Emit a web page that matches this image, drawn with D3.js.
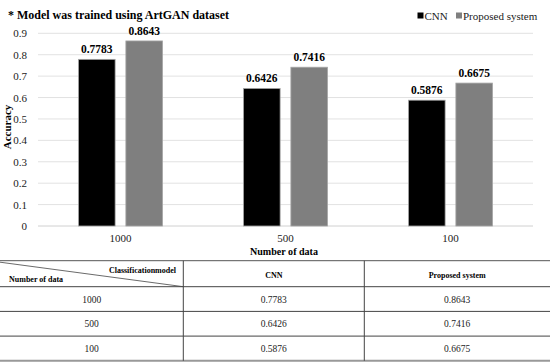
<!DOCTYPE html>
<html>
<head>
<meta charset="utf-8">
<script src="https://cdn.jsdelivr.net/npm/d3@7"></script>
<style>
  body { margin: 0; background: #fff; }
  svg { display: block; font-family: "Liberation Serif", "Times New Roman", serif; }
</style>
</head>
<body>
<svg id="chart" width="550" height="364"></svg>
<script>
// chart data
let categories = ['1000', '500', '100'];
let seriesNames = ['CNN', 'Proposed system'];
let cnnValues = [0.7783, 0.6426, 0.5876];
let proposedValues = [0.8643, 0.7416, 0.6675];
let yTicks = [0, 0.1, 0.2, 0.3, 0.4, 0.5, 0.6, 0.7, 0.8, 0.9];
let seriesColors = ['#000000', '#7f7f7f'];

// table data
let tableHeader = ['CNN', 'Proposed system'];
let tableRows = ['1000', '500', '100'];

let svg = d3.select('#chart');

//plot area
let plotLeft = 38, plotRight = 533, plotTop = 33.3, plotBottom = 226;

let x0 = d3.scaleBand()
    .domain(categories)
    .range([plotLeft, plotRight]);

let x1 = d3.scaleBand()
    .domain(seriesNames)
    .range([40.5, 124.5])
    .paddingInner(0.227);

let y = d3.scaleLinear()
    .domain([0, 0.9])
    .range([plotBottom, plotTop]);

//title (condensed like the original)
svg.append('text')
    .attr('x', 8).attr('y', 19)
    .attr('font-size', 13.5)
    .attr('font-weight', 'bold')
    .attr('textLength', 221)
    .attr('lengthAdjust', 'spacingAndGlyphs')
    .text('* Model was trained using ArtGAN dataset');

//gridlines
svg.append('g')
    .selectAll('line')
    .data(yTicks)
    .join('line')
    .attr('x1', plotLeft).attr('x2', plotRight)
    .attr('y1', d => y(d)).attr('y2', d => y(d))
    .attr('stroke', d => d === 0 ? '#d0d0d0' : '#e2e2e2')
    .attr('stroke-width', 1);

//y axis labels
let yAxis = svg.append('g')
    .attr('transform', 'translate(' + (plotLeft - 8) + ',0)')
    .call(d3.axisLeft(y).tickValues(yTicks).tickSize(0).tickFormat(d => d === 0 ? '0' : d3.format('.1f')(d)));
yAxis.select('.domain').remove();
yAxis.selectAll('text')
    .attr('font-family', '"Liberation Serif", serif')
    .attr('font-size', 11)
    .attr('fill', '#222');

//x axis labels
let xAxis = svg.append('g')
    .attr('transform', 'translate(0,' + (plotBottom + 5) + ')')
    .call(d3.axisBottom(x0).tickSize(0));
xAxis.select('.domain').remove();
xAxis.selectAll('text')
    .attr('font-family', '"Liberation Serif", serif')
    .attr('font-size', 11)
    .attr('fill', '#222');

//axis titles
svg.append('text')
    .attr('x', 284).attr('y', 255)
    .attr('text-anchor', 'middle')
    .attr('font-size', 11)
    .attr('font-weight', 'bold')
    .attr('textLength', 68)
    .attr('lengthAdjust', 'spacingAndGlyphs')
    .text('Number  of data');

svg.append('text')
    .attr('transform', 'translate(11,127) rotate(-90)')
    .attr('text-anchor', 'middle')
    .attr('font-size', 11)
    .attr('font-weight', 'bold')
    .text('Accuracy');

//bars
let barData = categories.map((c, i) => ({
    category: c,
    values: [
        { key: seriesNames[0], value: cnnValues[i], color: seriesColors[0] },
        { key: seriesNames[1], value: proposedValues[i], color: seriesColors[1] }
    ]
}));

let groups = svg.append('g')
    .selectAll('g')
    .data(barData)
    .join('g')
    .attr('transform', d => 'translate(' + x0(d.category) + ',0)');

groups.selectAll('rect')
    .data(d => d.values)
    .join('rect')
    .attr('x', d => x1(d.key))
    .attr('y', d => y(d.value))
    .attr('width', x1.bandwidth())
    .attr('height', d => y(0) - y(d.value))
    .attr('fill', d => d.color)
    .attr('stroke', '#a6a6a6')
    .attr('stroke-width', 0.8);

groups.selectAll('text')
    .data(d => d.values)
    .join('text')
    .attr('x', d => x1(d.key) + x1.bandwidth() / 2)
    .attr('y', d => y(d.value) - 6)
    .attr('text-anchor', 'middle')
    .attr('font-size', 11.5)
    .attr('font-weight', 'bold')
    .text(d => d.value.toFixed(4));

//legend
let legend = svg.append('g')
    .selectAll('g')
    .data(seriesNames)
    .join('g')
    .attr('transform', (d, i) => 'translate(' + [417.5, 456][i] + ',16)');

legend.append('rect')
    .attr('x', 0).attr('y', -3.5)
    .attr('width', 6).attr('height', 6)
    .attr('fill', (d, i) => seriesColors[i]);

legend.append('text')
    .attr('x', 7).attr('y', 3.5)
    .attr('font-size', 11)
    .attr('fill', '#222')
    .text(d => d);

//table
let tTop = 260.7, tHead = 286.7, rowH = 24.7;
let colX = [0, 183.3, 364.3, 550];
let tbl = svg.append('g');

tbl.append('line')
    .attr('x1', 0).attr('x2', 550)
    .attr('y1', tTop).attr('y2', tTop)
    .attr('stroke', '#555').attr('stroke-width', 1);

let lineYs = [tHead].concat(tableRows.map((r, i) => tHead + rowH * (i + 1)));
tbl.selectAll('line.row')
    .data(lineYs)
    .join('line')
    .attr('class', 'row')
    .attr('x1', 0).attr('x2', 550)
    .attr('y1', d => d).attr('y2', d => d)
    .attr('stroke', (d, i) => i === lineYs.length - 1 ? '#999' : '#444')
    .attr('stroke-width', (d, i) => i === lineYs.length - 1 ? 2 : 1);

tbl.selectAll('line.col')
    .data([colX[1], colX[2]])
    .join('line')
    .attr('class', 'col')
    .attr('x1', d => d).attr('x2', d => d)
    .attr('y1', tTop).attr('y2', lineYs[lineYs.length - 1])
    .attr('stroke', '#444').attr('stroke-width', 1);

//diagonal header cell
tbl.append('line')
    .attr('x1', 0).attr('y1', tTop + 1.5)
    .attr('x2', colX[1]).attr('y2', tHead)
    .attr('stroke', '#444').attr('stroke-width', 0.8);

tbl.append('text')
    .attr('x', 176).attr('y', 272.5)
    .attr('text-anchor', 'end')
    .attr('font-size', 8)
    .attr('font-weight', 'bold')
    .text('Classificationmodel');

tbl.append('text')
    .attr('x', 9).attr('y', 282)
    .attr('font-size', 8)
    .attr('font-weight', 'bold')
    .text('Number of data');

tbl.selectAll('text.head')
    .data(tableHeader)
    .join('text')
    .attr('class', 'head')
    .attr('x', (d, i) => (colX[i + 1] + colX[i + 2]) / 2)
    .attr('y', 277.5)
    .attr('text-anchor', 'middle')
    .attr('font-size', 8)
    .attr('font-weight', 'bold')
    .text(d => d);

let cellData = [];
tableRows.forEach((r, i) => {
    [r, cnnValues[i].toFixed(4), proposedValues[i].toFixed(4)].forEach((v, j) => {
        cellData.push({ row: i, col: j, value: v });
    });
});

tbl.selectAll('text.cell')
    .data(cellData)
    .join('text')
    .attr('class', 'cell')
    .attr('x', d => (colX[d.col] + colX[d.col + 1]) / 2)
    .attr('y', d => tHead + rowH * d.row + 12.5)
    .attr('dy', '0.35em')
    .attr('text-anchor', 'middle')
    .attr('font-size', 9.5)
    .attr('fill', '#222')
    .text(d => d.value);
</script>
</body>
</html>
